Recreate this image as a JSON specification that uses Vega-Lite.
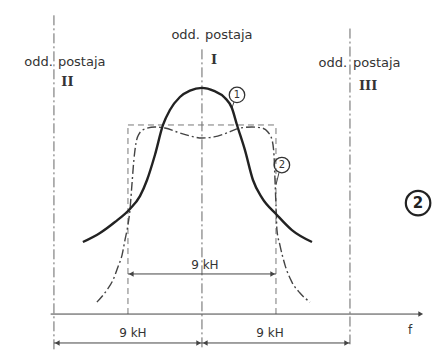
{
  "$schema": "https://vega.github.io/schema/vega-lite/v6.json",
  "width": 436,
  "height": 353,
  "autosize": {"type": "fit", "contains": "padding"},
  "padding": 0,
  "background": "white",
  "config": {"view": {"stroke": null}},
  "datasets": {
    "curves": [
      {"f": -7.24, "a": 0.381, "c": "1"},
      {"f": -6.2, "a": 0.429, "c": "1"},
      {"f": -5.29, "a": 0.487, "c": "1"},
      {"f": -4.38, "a": 0.556, "c": "1"},
      {"f": -3.77, "a": 0.624, "c": "1"},
      {"f": -3.34, "a": 0.709, "c": "1"},
      {"f": -2.86, "a": 0.841, "c": "1"},
      {"f": -2.37, "a": 1.0, "c": "1"},
      {"f": -1.95, "a": 1.079, "c": "1"},
      {"f": -1.34, "a": 1.148, "c": "1"},
      {"f": -0.73, "a": 1.182, "c": "1"},
      {"f": 0, "a": 1.196, "c": "1"},
      {"f": 0.73, "a": 1.18, "c": "1"},
      {"f": 1.4, "a": 1.143, "c": "1"},
      {"f": 1.82, "a": 1.09, "c": "1"},
      {"f": 2.13, "a": 1.0, "c": "1"},
      {"f": 2.61, "a": 0.868, "c": "1"},
      {"f": 3.1, "a": 0.709, "c": "1"},
      {"f": 3.65, "a": 0.614, "c": "1"},
      {"f": 4.56, "a": 0.524, "c": "1"},
      {"f": 5.47, "a": 0.444, "c": "1"},
      {"f": 6.69, "a": 0.381, "c": "1"},
      {"f": -6.39, "a": 0.063, "c": "2"},
      {"f": -5.78, "a": 0.127, "c": "2"},
      {"f": -5.41, "a": 0.18, "c": "2"},
      {"f": -5.11, "a": 0.249, "c": "2"},
      {"f": -4.86, "a": 0.312, "c": "2"},
      {"f": -4.68, "a": 0.392, "c": "2"},
      {"f": -4.5, "a": 0.471, "c": "2"},
      {"f": -4.38, "a": 0.55, "c": "2"},
      {"f": -4.26, "a": 0.683, "c": "2"},
      {"f": -4.14, "a": 0.815, "c": "2"},
      {"f": -4.01, "a": 0.905, "c": "2"},
      {"f": -3.83, "a": 0.952, "c": "2"},
      {"f": -3.47, "a": 0.979, "c": "2"},
      {"f": -2.86, "a": 0.989, "c": "2"},
      {"f": -2.25, "a": 0.984, "c": "2"},
      {"f": -1.52, "a": 0.963, "c": "2"},
      {"f": -0.73, "a": 0.942, "c": "2"},
      {"f": 0, "a": 0.931, "c": "2"},
      {"f": 0.73, "a": 0.937, "c": "2"},
      {"f": 1.52, "a": 0.958, "c": "2"},
      {"f": 2.31, "a": 0.984, "c": "2"},
      {"f": 3.04, "a": 0.989, "c": "2"},
      {"f": 3.65, "a": 0.984, "c": "2"},
      {"f": 4.01, "a": 0.963, "c": "2"},
      {"f": 4.26, "a": 0.921, "c": "2"},
      {"f": 4.38, "a": 0.841, "c": "2"},
      {"f": 4.44, "a": 0.709, "c": "2"},
      {"f": 4.5, "a": 0.577, "c": "2"},
      {"f": 4.56, "a": 0.444, "c": "2"},
      {"f": 4.74, "a": 0.365, "c": "2"},
      {"f": 5.05, "a": 0.259, "c": "2"},
      {"f": 5.47, "a": 0.169, "c": "2"},
      {"f": 5.96, "a": 0.111, "c": "2"},
      {"f": 6.57, "a": 0.063, "c": "2"}
    ],
    "guides": [
      {"f": -9, "a": 1.58, "f2": -9, "a2": -0.19, "kind": "station"},
      {"f": 0, "a": 1.4, "f2": 0, "a2": -0.19, "kind": "station"},
      {"f": 9, "a": 1.51, "f2": 9, "a2": -0.16, "kind": "station"},
      {"f": -4.5, "a": 0, "f2": -4.5, "a2": 1, "kind": "band"},
      {"f": 4.5, "a": 0, "f2": 4.5, "a2": 1, "kind": "band"},
      {"f": -4.5, "a": 1, "f2": 4.5, "a2": 1, "kind": "band"},
      {"f": -9.2, "a": 0, "f2": 13.2, "a2": 0, "kind": "solid"},
      {"f": -9, "a": -0.153, "f2": 9, "a2": -0.153, "kind": "solid"},
      {"f": -4.5, "a": 0.212, "f2": 4.5, "a2": 0.212, "kind": "solid"},
      {"f": 1.95, "a": 1.122, "f2": 1.82, "a2": 1.09, "kind": "solid"},
      {"f": 4.68, "a": 0.746, "f2": 4.5, "a2": 0.683, "kind": "solid"}
    ],
    "arrows": [
      {"f": -4.3, "a": 0.212, "dir": "left"},
      {"f": 4.3, "a": 0.212, "dir": "right"},
      {"f": -8.8, "a": -0.153, "dir": "left"},
      {"f": -0.2, "a": -0.153, "dir": "right"},
      {"f": 0.2, "a": -0.153, "dir": "left"},
      {"f": 8.8, "a": -0.153, "dir": "right"},
      {"f": 13.3, "a": 0, "dir": "right"}
    ],
    "labels": [
      {"f": -0.12, "a": 1.476, "t": "odd.", "al": "right"},
      {"f": -9.06, "a": 1.333, "t": "odd.", "al": "right"},
      {"f": 8.82, "a": 1.328, "t": "odd.", "al": "right"},
      {"f": 0.18, "a": 1.476, "t": "postaja", "al": "left"},
      {"f": -8.76, "a": 1.333, "t": "postaja", "al": "left"},
      {"f": 9.18, "a": 1.328, "t": "postaja", "al": "left"},
      {"f": 0.18, "a": 0.259, "t": "9 kH", "al": "center"},
      {"f": -4.2, "a": -0.1, "t": "9 kH", "al": "center"},
      {"f": 4.14, "a": -0.1, "t": "9 kH", "al": "center"},
      {"f": 12.65, "a": -0.085, "t": "f", "al": "center"}
    ],
    "romans": [
      {"f": -8.55, "a": 1.228, "t": "II"},
      {"f": 0.55, "a": 1.344, "t": "I"},
      {"f": 9.55, "a": 1.206, "t": "III"}
    ],
    "circles": [
      {"f": 2.13, "a": 1.159, "t": "1", "big": false},
      {"f": 4.86, "a": 0.788, "t": "2", "big": false},
      {"f": 13.14, "a": 0.587, "t": "2", "big": true}
    ]
  },
  "encoding": {
    "x": {"field": "f", "type": "quantitative", "scale": {"domain": [-12.28, 14.23], "nice": false, "zero": false}, "axis": null},
    "y": {"field": "a", "type": "quantitative", "scale": {"domain": [-0.206, 1.661], "nice": false, "zero": false}, "axis": null}
  },
  "layer": [
    {
      "data": {"name": "guides"},
      "transform": [{"filter": "datum.kind === 'station'"}],
      "mark": {"type": "rule", "stroke": "#666", "strokeWidth": 1, "strokeDash": [10, 3, 2, 3]},
      "encoding": {"x2": {"field": "f2"}, "y2": {"field": "a2"}}
    },
    {
      "data": {"name": "guides"},
      "transform": [{"filter": "datum.kind === 'band'"}],
      "mark": {"type": "rule", "stroke": "#777", "strokeWidth": 1, "strokeDash": [6, 4]},
      "encoding": {"x2": {"field": "f2"}, "y2": {"field": "a2"}}
    },
    {
      "data": {"name": "guides"},
      "transform": [{"filter": "datum.kind === 'solid'"}],
      "mark": {"type": "rule", "stroke": "#444", "strokeWidth": 1},
      "encoding": {"x2": {"field": "f2"}, "y2": {"field": "a2"}}
    },
    {
      "data": {"name": "curves"},
      "transform": [{"filter": "datum.c === '2'"}],
      "mark": {"type": "line", "stroke": "#444", "strokeWidth": 1.4, "strokeDash": [9, 3, 2, 3], "interpolate": "monotone"},
      "encoding": {}
    },
    {
      "data": {"name": "curves"},
      "transform": [{"filter": "datum.c === '1'"}],
      "mark": {"type": "line", "stroke": "#222", "strokeWidth": 2.4, "interpolate": "monotone"},
      "encoding": {}
    },
    {
      "data": {"name": "arrows"},
      "mark": {"type": "point", "filled": true, "color": "#444", "size": 30, "opacity": 1},
      "encoding": {
        "shape": {"field": "dir", "type": "nominal", "scale": {"domain": ["left", "right"], "range": ["triangle-left", "triangle-right"]}, "legend": null}
      }
    },
    {
      "data": {"name": "labels"},
      "transform": [{"filter": "datum.al === 'right'"}],
      "mark": {"type": "text", "align": "right", "baseline": "middle", "font": "DejaVu Sans", "fontSize": 13, "color": "#333"},
      "encoding": {"text": {"field": "t"}}
    },
    {
      "data": {"name": "labels"},
      "transform": [{"filter": "datum.al === 'left'"}],
      "mark": {"type": "text", "align": "left", "baseline": "middle", "font": "DejaVu Sans", "fontSize": 13, "color": "#333"},
      "encoding": {"text": {"field": "t"}}
    },
    {
      "data": {"name": "labels"},
      "transform": [{"filter": "datum.al === 'center'"}],
      "mark": {"type": "text", "align": "center", "baseline": "middle", "font": "DejaVu Sans", "fontSize": 12, "color": "#333"},
      "encoding": {"text": {"field": "t"}}
    },
    {
      "data": {"name": "romans"},
      "mark": {"type": "text", "align": "left", "baseline": "middle", "font": "DejaVu Serif", "fontSize": 13, "fontWeight": "bold", "color": "#333"},
      "encoding": {"text": {"field": "t"}}
    },
    {
      "data": {"name": "circles"},
      "transform": [{"filter": "!datum.big"}],
      "mark": {"type": "point", "shape": "circle", "filled": false, "stroke": "#333", "strokeWidth": 1.3, "size": 240, "opacity": 1},
      "encoding": {}
    },
    {
      "data": {"name": "circles"},
      "transform": [{"filter": "datum.big"}],
      "mark": {"type": "point", "shape": "circle", "filled": false, "stroke": "#222", "strokeWidth": 2.2, "size": 600, "opacity": 1},
      "encoding": {}
    },
    {
      "data": {"name": "circles"},
      "transform": [{"filter": "!datum.big"}],
      "mark": {"type": "text", "align": "center", "baseline": "middle", "font": "DejaVu Sans", "fontSize": 10, "color": "#333"},
      "encoding": {"text": {"field": "t"}}
    },
    {
      "data": {"name": "circles"},
      "transform": [{"filter": "datum.big"}],
      "mark": {"type": "text", "align": "center", "baseline": "middle", "font": "DejaVu Sans", "fontSize": 15, "fontWeight": "bold", "color": "#222"},
      "encoding": {"text": {"field": "t"}}
    }
  ]
}
